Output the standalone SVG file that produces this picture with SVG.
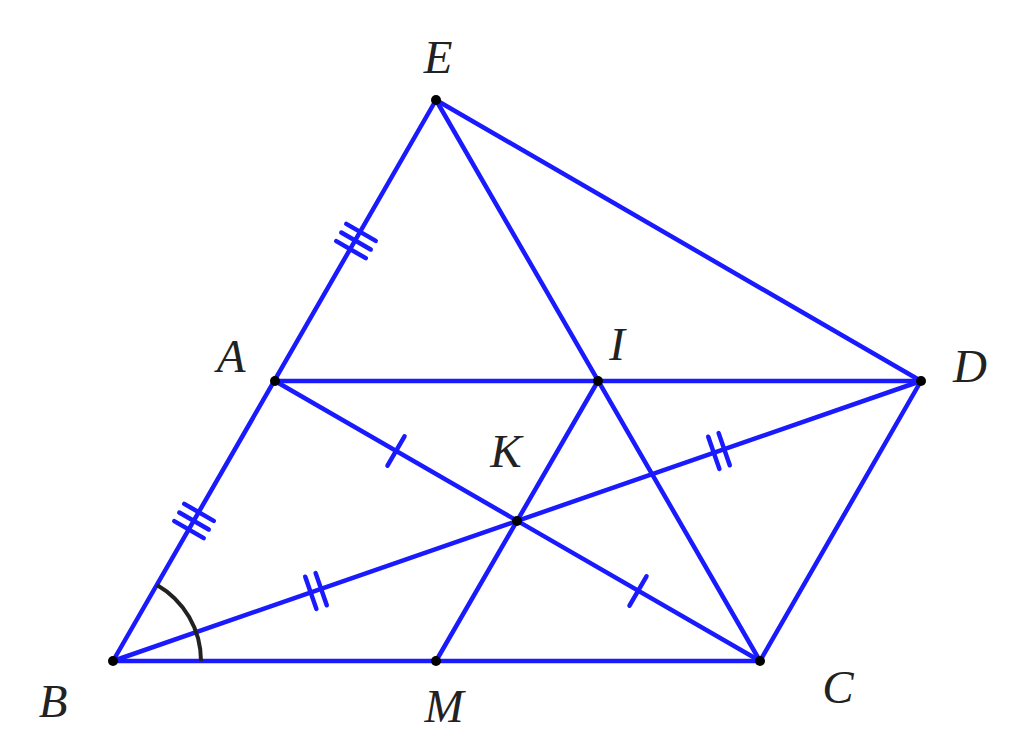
<svg xmlns="http://www.w3.org/2000/svg" width="1024" height="747" viewBox="0 0 1024 747">
<style>
.ln{stroke:#1a1aff;stroke-width:4.5;fill:none;stroke-linecap:round}
.tk{stroke:#1a1aff;stroke-width:4.5;fill:none;stroke-linecap:round}
.pt{fill:#000}
.lb{font-family:"Liberation Serif",serif;font-style:italic;font-size:47px;fill:#222;text-anchor:middle}
</style>
<rect width="1024" height="747" fill="#fff"/>
<g id="connectors">
<line class="ln" x1="436" y1="100" x2="113" y2="661"/>
<line class="ln" x1="436" y1="100" x2="921" y2="381"/>
<line class="ln" x1="436" y1="100" x2="760" y2="661"/>
<line class="ln" x1="275" y1="381" x2="921" y2="381"/>
<line class="ln" x1="275" y1="381" x2="760" y2="661"/>
<line class="ln" x1="113" y1="661" x2="921" y2="381"/>
<line class="ln" x1="921" y1="381" x2="760" y2="661"/>
<line class="ln" x1="113" y1="661" x2="760" y2="661"/>
<line class="ln" x1="598" y1="381" x2="436" y2="661"/>
</g>
<g id="marks">
<g transform="translate(356,241) rotate(-60)">
<line class="tk" x1="-10" y1="-17" x2="-10" y2="17"/>
<line class="tk" x1="0" y1="-17" x2="0" y2="17"/>
<line class="tk" x1="10" y1="-17" x2="10" y2="17"/>
</g>
<g transform="translate(194,521) rotate(-60)">
<line class="tk" x1="-10" y1="-17" x2="-10" y2="17"/>
<line class="tk" x1="0" y1="-17" x2="0" y2="17"/>
<line class="tk" x1="10" y1="-17" x2="10" y2="17"/>
</g>
<g transform="translate(396,451) rotate(30)">
<line class="tk" x1="0" y1="-17" x2="0" y2="17"/>
</g>
<g transform="translate(638,591) rotate(30)">
<line class="tk" x1="0" y1="-17" x2="0" y2="17"/>
</g>
<g transform="translate(316,591) rotate(-19.1)">
<line class="tk" x1="-5.5" y1="-17" x2="-5.5" y2="17"/>
<line class="tk" x1="5.5" y1="-17" x2="5.5" y2="17"/>
</g>
<g transform="translate(719,451) rotate(-19.1)">
<line class="tk" x1="-5.5" y1="-17" x2="-5.5" y2="17"/>
<line class="tk" x1="5.5" y1="-17" x2="5.5" y2="17"/>
</g>
<path d="M 201 661 A 88 88 0 0 0 157 585" stroke="#222" stroke-width="4" fill="none"/>
</g>
<g id="E"><circle class="pt" cx="436" cy="100" r="5"/><text class="lb" x="438" y="73">E</text></g>
<g id="A"><circle class="pt" cx="275" cy="381" r="5"/><text class="lb" x="231" y="372">A</text></g>
<g id="I"><circle class="pt" cx="598" cy="381" r="5"/><text class="lb" x="617" y="360">I</text></g>
<g id="D"><circle class="pt" cx="921" cy="381" r="5"/><text class="lb" x="970" y="382">D</text></g>
<g id="K"><circle class="pt" cx="517" cy="521" r="5"/><text class="lb" x="506" y="467">K</text></g>
<g id="B"><circle class="pt" cx="113" cy="661" r="5"/><text class="lb" x="53" y="717">B</text></g>
<g id="M"><circle class="pt" cx="436" cy="661" r="5"/><text class="lb" x="444" y="722">M</text></g>
<g id="C"><circle class="pt" cx="760" cy="661" r="5"/><text class="lb" x="838" y="703">C</text></g>
</svg>
